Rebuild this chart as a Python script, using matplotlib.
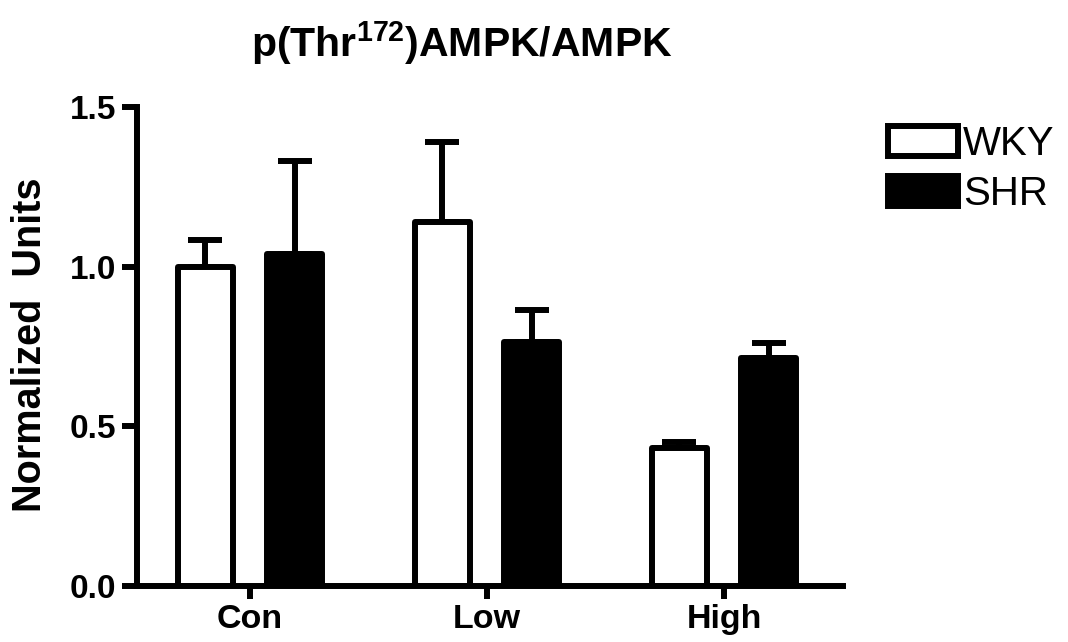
import numpy as np
import matplotlib
matplotlib.use('Agg')
import matplotlib.pyplot as plt
from matplotlib.patches import Patch

plt.rcParams['font.family'] = ['Liberation Sans', 'DejaVu Sans']
plt.rcParams['mathtext.fontset'] = 'custom'
plt.rcParams['mathtext.rm'] = 'Liberation Sans'
plt.rcParams['mathtext.bf'] = 'Liberation Sans:bold'

# data
groups = ['Con', 'Low', 'High']
series = ['WKY', 'SHR']
wky_mean = [1.00, 1.14, 0.43]
wky_top = [1.085, 1.391, 0.450]
shr_mean = [1.04, 0.764, 0.714]
shr_top = [1.332, 0.863, 0.760]
yticks = [0.0, 0.5, 1.0, 1.5]

lw = 4.3
fig = plt.figure(figsize=(10.68, 6.42), dpi=100)
ax = fig.add_axes([137/1068, 1-585.5/642, 706/1068, (585.5-107.3)/642])

x = np.arange(len(groups))
off = 0.188
width = 0.235
means = [wky_mean, shr_mean]
tops = [wky_top, shr_top]
faces = ['white', 'black']
for i in range(2):
    xi = x + (-off if i == 0 else off)
    m = np.array(means[i])
    up = np.array(tops[i]) - m
    ax.errorbar(xi, m, yerr=[np.zeros_like(m), up], fmt='none', ecolor='black',
                elinewidth=lw, capsize=12, capthick=lw, zorder=1,
                solid_capstyle='round')
    ax.bar(xi, m, width=width, color=faces[i], edgecolor='black', linewidth=lw,
           joinstyle='round', zorder=2, label=series[i])

ax.set_xlim(-0.477, 2.502)
ax.set_ylim(0, 1.5)
ax.set_yticks(yticks)
ax.set_yticklabels(['0.0', '0.5', '1.0', '1.5'])
ax.set_xticks(x)
ax.set_xticklabels(groups)
for s in ['top', 'right']:
    ax.spines[s].set_visible(False)
for s in ['left', 'bottom']:
    ax.spines[s].set_linewidth(lw)
ax.tick_params(axis='y', width=lw, length=11, labelsize=24, pad=4)
ax.tick_params(axis='x', width=lw, length=9, labelsize=24.5, pad=4)
for t in ax.get_xticklabels() + ax.get_yticklabels():
    t.set_fontweight('bold')

ax.set_ylabel('Normalized  Units', fontsize=28.5, fontweight='bold')
ax.yaxis.set_label_coords(-0.125, 0.503)

fig.text(462/1068, 1-57/642, r'p(Thr$^{\mathbf{172}}$)AMPK/AMPK', fontsize=29.5,
         fontweight='bold', ha='center', va='baseline')

handles = [Patch(facecolor='white', edgecolor='black', linewidth=lw, joinstyle='round'),
           Patch(facecolor='black', edgecolor='black', linewidth=lw, joinstyle='round')]
fig.legend(handles, series, loc='upper left', bbox_to_anchor=(888/1068, 1-125/642),
           frameon=False, fontsize=29, handlelength=1.75, handleheight=0.8,
           labelspacing=0.3, handletextpad=0.12, borderpad=0, borderaxespad=0)

fig.savefig('out.png', dpi=100)
